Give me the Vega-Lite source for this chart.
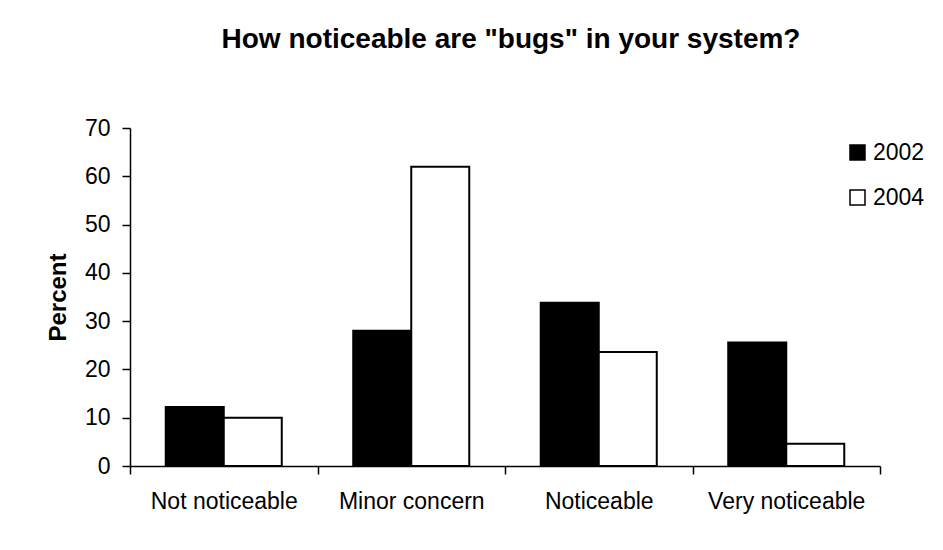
{
  "$schema": "https://vega.github.io/schema/vega-lite/v6.json",
  "autosize": "none",
  "width": 750,
  "height": 338,
  "padding": {"left": 130, "top": 128, "right": 63, "bottom": 84},
  "background": "white",
  "title": {
    "text": "How noticeable are \"bugs\" in your system?",
    "font": "Liberation Sans",
    "fontSize": 28,
    "fontWeight": "bold",
    "color": "black",
    "anchor": "middle",
    "frame": "group",
    "offset": 63,
    "dx": 6
  },
  "data": {
    "values": [
      {"response": "Not noticeable", "year": "2002", "percent": 12.2},
      {"response": "Not noticeable", "year": "2004", "percent": 10},
      {"response": "Minor concern", "year": "2002", "percent": 28},
      {"response": "Minor concern", "year": "2004", "percent": 62},
      {"response": "Noticeable", "year": "2002", "percent": 33.8},
      {"response": "Noticeable", "year": "2004", "percent": 23.6},
      {"response": "Very noticeable", "year": "2002", "percent": 25.6},
      {"response": "Very noticeable", "year": "2004", "percent": 4.6}
    ]
  },
  "mark": {"type": "bar", "stroke": "black", "strokeWidth": 2},
  "encoding": {
    "x": {
      "field": "response",
      "type": "nominal",
      "sort": ["Not noticeable", "Minor concern", "Noticeable", "Very noticeable"],
      "scale": {"paddingInner": 0, "paddingOuter": 0},
      "axis": {
        "title": null,
        "labelAngle": 0,
        "labelFont": "Liberation Sans",
        "labelFontSize": 23,
        "labelColor": "black",
        "labelPadding": 16,
        "tickBand": "extent",
        "tickSize": 8,
        "tickColor": "black",
        "tickWidth": 1.5,
        "domainColor": "black",
        "domainWidth": 1.5
      }
    },
    "xOffset": {
      "field": "year",
      "type": "nominal",
      "scale": {"paddingInner": 0, "paddingOuter": 0.616}
    },
    "y": {
      "field": "percent",
      "type": "quantitative",
      "scale": {"domain": [0, 70], "nice": false},
      "axis": {
        "title": "Percent",
        "titleFont": "Liberation Sans",
        "titleFontSize": 24,
        "titleFontWeight": "bold",
        "titleColor": "black",
        "titlePadding": 14,
        "values": [0, 10, 20, 30, 40, 50, 60, 70],
        "grid": false,
        "labelFont": "Liberation Sans",
        "labelFontSize": 23,
        "labelColor": "black",
        "labelPadding": 12,
        "tickSize": 8,
        "tickColor": "black",
        "tickWidth": 1.5,
        "domainColor": "black",
        "domainWidth": 1.5
      }
    },
    "fill": {
      "field": "year",
      "type": "nominal",
      "scale": {"domain": ["2002", "2004"], "range": ["black", "white"]},
      "legend": {
        "title": null,
        "orient": "none",
        "legendX": 716,
        "legendY": 13,
        "symbolType": "square",
        "symbolSize": 225,
        "symbolStrokeColor": "black",
        "symbolStrokeWidth": 1.5,
        "labelFont": "Liberation Sans",
        "labelFontSize": 23,
        "labelColor": "black",
        "labelOffset": 4,
        "rowPadding": 21,
        "padding": 0
      }
    }
  },
  "config": {
    "view": {"stroke": null}
  }
}
